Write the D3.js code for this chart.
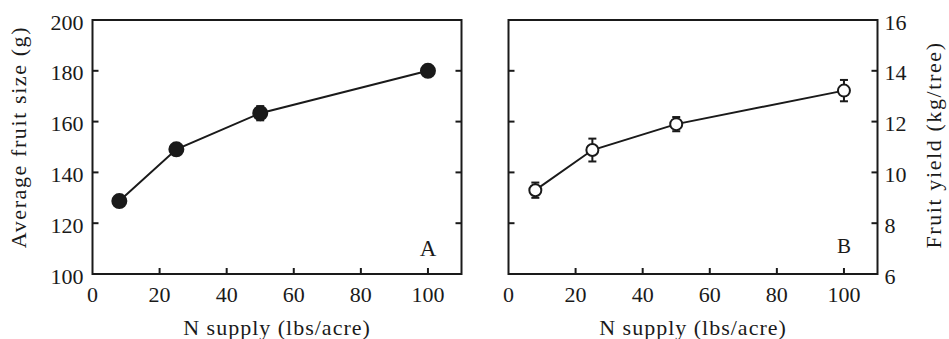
<!DOCTYPE html>
<html>
<head>
<meta charset="utf-8">
<script src="https://cdn.jsdelivr.net/npm/d3@7"></script>
<style>
  body { margin: 0; background: #fff; }
  svg text { font-family: "Liberation Serif", "Times New Roman", serif; fill: #1a1a1a; }
</style>
</head>
<body>
<svg id="chart" width="949" height="339"></svg>
<script>
// N supply levels, shared by both panels
const nSupply = [8, 25, 50, 100];

// panel A: average fruit size (g)
const fruitSize = [128.7, 149.1, 163.3, 180.0];
const fruitSizeErr = [1.0, 1.0, 2.8, 1.2];

// panel B: fruit yield (kg/tree)
const fruitYield = [9.3, 10.88, 11.9, 13.22];
const fruitYieldErr = [0.3, 0.45, 0.28, 0.42];

const xTicks = [0, 20, 40, 60, 80, 100];
const sizeTicks = [100, 120, 140, 160, 180, 200];
const yieldTicks = [6, 8, 10, 12, 14, 16];

const svg = d3.select('#chart');
const ink = '#1a1a1a';
const plotTop = 20, plotBottom = 274;

function panel(opts) {
  const g = svg.append('g');
  const x = d3.scaleLinear().domain([0, 110]).range([opts.left, opts.right]);
  const y = d3.scaleLinear().domain(opts.yDomain).range([plotBottom, plotTop]);

  // frame
  g.append('rect')
    .attr('x', opts.left).attr('y', plotTop)
    .attr('width', opts.right - opts.left).attr('height', plotBottom - plotTop)
    .attr('fill', 'none').attr('stroke', ink).attr('stroke-width', 2);

  // x ticks (inward) and labels
  g.selectAll('.xt').data(xTicks.filter(d => d > 0)).join('line')
    .attr('x1', d => x(d)).attr('x2', d => x(d))
    .attr('y1', plotBottom).attr('y2', plotBottom - 6)
    .attr('stroke', ink).attr('stroke-width', 2);
  g.selectAll('.xl').data(xTicks).join('text')
    .attr('x', d => x(d)).attr('y', 302)
    .attr('text-anchor', 'middle').attr('font-size', 22)
    .text(d => d);

  // y ticks on both sides (inward)
  const inner = opts.yTicks.slice(1, -1);
  g.selectAll('.yl').data(inner).join('line')
    .attr('x1', opts.left).attr('x2', opts.left + 6)
    .attr('y1', d => y(d)).attr('y2', d => y(d))
    .attr('stroke', ink).attr('stroke-width', 2);
  g.selectAll('.yr').data(inner).join('line')
    .attr('x1', opts.right).attr('x2', opts.right - 6)
    .attr('y1', d => y(d)).attr('y2', d => y(d))
    .attr('stroke', ink).attr('stroke-width', 2);

  // y labels
  g.selectAll('.ylab').data(opts.yTicks).join('text')
    .attr('x', opts.labelSide === 'left' ? opts.left - 9 : opts.right + 7)
    .attr('y', d => y(d) + 9.5)
    .attr('text-anchor', opts.labelSide === 'left' ? 'end' : 'start')
    .attr('font-size', 22)
    .text(d => d);

  // axis titles
  g.append('text')
    .attr('x', (opts.left + opts.right) / 2).attr('y', 335)
    .attr('text-anchor', 'middle').attr('font-size', 22)
    .attr('letter-spacing', 1)
    .text('N supply (lbs/acre)');
  g.append('text')
    .attr('transform', `translate(${opts.titleX},${opts.titleY}) rotate(-90)`)
    .attr('text-anchor', 'middle').attr('font-size', 22)
    .attr('letter-spacing', 1.6)
    .text(opts.yTitle);

  // panel letter
  g.append('text')
    .attr('x', x(100)).attr('y', opts.letterY)
    .attr('text-anchor', 'middle').attr('font-size', opts.letterSize)
    .text(opts.letter);

  const pts = nSupply.map((n, i) => ({ n, v: opts.values[i], e: opts.errors[i] }));

  // connecting line
  const line = d3.line().x(d => x(d.n)).y(d => y(d.v));
  g.append('path').datum(pts)
    .attr('d', line).attr('fill', 'none')
    .attr('stroke', ink).attr('stroke-width', 2);

  // error bars
  const eb = g.selectAll('.eb').data(pts).join('g');
  eb.append('line')
    .attr('x1', d => x(d.n)).attr('x2', d => x(d.n))
    .attr('y1', d => y(d.v - d.e)).attr('y2', d => y(d.v + d.e))
    .attr('stroke', ink).attr('stroke-width', 2);
  [-1, 1].forEach(s => {
    eb.append('line')
      .attr('x1', d => x(d.n) - 4).attr('x2', d => x(d.n) + 4)
      .attr('y1', d => y(d.v + s * d.e)).attr('y2', d => y(d.v + s * d.e))
      .attr('stroke', ink).attr('stroke-width', 2);
  });

  // markers
  g.selectAll('.pt').data(pts).join('circle')
    .attr('cx', d => x(d.n)).attr('cy', d => y(d.v))
    .attr('r', opts.filled ? 7 : 6)
    .attr('fill', opts.filled ? ink : '#fff')
    .attr('stroke', ink).attr('stroke-width', 2);
}

panel({
  left: 92.5, right: 461.5, yDomain: [100, 200], yTicks: sizeTicks,
  labelSide: 'left', values: fruitSize, errors: fruitSizeErr, filled: true,
  yTitle: 'Average fruit size (g)', titleX: 26, titleY: 137,
  letter: 'A', letterY: 256, letterSize: 23
});

panel({
  left: 508.5, right: 877.5, yDomain: [6, 16], yTicks: yieldTicks,
  labelSide: 'right', values: fruitYield, errors: fruitYieldErr, filled: false,
  yTitle: 'Fruit yield (kg/tree)', titleX: 941, titleY: 145,
  letter: 'B', letterY: 253, letterSize: 21
});
</script>
</body>
</html>
